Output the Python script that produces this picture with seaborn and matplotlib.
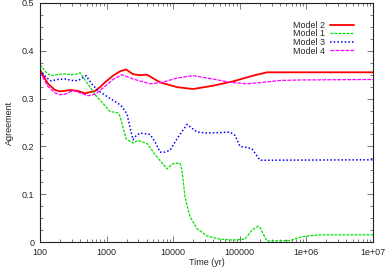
import numpy as np
import pandas as pd
import matplotlib
matplotlib.use("Agg")
import matplotlib.pyplot as plt
import matplotlib.ticker as mticker
import seaborn as sns

# ---- data ----
t_m2 = [100, 132, 168, 200, 292, 372, 474, 670, 796, 946, 1248, 1590, 1956, 2491, 3173,
        4043, 6335, 11400, 19830, 39590, 79060, 157800, 256100, 1e7]
v_m2 = [0.360, 0.331, 0.318, 0.315, 0.318, 0.316, 0.311, 0.316, 0.324, 0.334, 0.348, 0.357,
        0.361, 0.351, 0.349, 0.350, 0.334, 0.324, 0.320, 0.327, 0.336, 0.348, 0.355, 0.355]

t_m1 = [100, 123, 146, 180, 221, 292, 347, 399, 526, 693, 883, 1125, 1484, 1590, 1956, 2491,
        2961, 4043, 5712, 8070, 9931, 12650, 13560, 15040, 17880, 22780, 32170, 50440, 79060,
        119700, 152500, 187700, 201100, 256100, 567400, 801500, 1021000, 1600000, 1e7]
v_m1 = [0.371, 0.355, 0.348, 0.350, 0.352, 0.350, 0.351, 0.354, 0.330, 0.306, 0.290, 0.273,
        0.270, 0.263, 0.216, 0.207, 0.2125, 0.206, 0.178, 0.153, 0.164, 0.165, 0.150, 0.094,
        0.053, 0.028, 0.0125, 0.006, 0.004, 0.006, 0.025, 0.033, 0.030, 0.002, 0.003, 0.010,
        0.0125, 0.015, 0.015]

t_m3 = [100, 123, 146, 186, 237, 335, 399, 491, 604, 743, 1050, 1484, 1703, 2025, 2246, 2491,
        2763, 3173, 4485, 5331, 6335, 7530, 8954, 11810, 16120, 19160, 22780, 32170, 50440,
        71290, 84720, 100700, 123900, 152500, 201100, 1e7]
v_m3 = [0.360, 0.345, 0.337, 0.340, 0.341, 0.337, 0.340, 0.348, 0.330, 0.317, 0.303, 0.290,
        0.283, 0.268, 0.240, 0.214, 0.222, 0.228, 0.225, 0.210, 0.188, 0.188, 0.192, 0.219,
        0.246, 0.238, 0.230, 0.228, 0.229, 0.230, 0.223, 0.200, 0.198, 0.195, 0.171, 0.172]

t_m4 = [100, 132, 168, 200, 246, 313, 399, 526, 670, 914, 1248, 1703, 2491, 4485, 6788, 11400,
        19830, 39590, 71290, 128300, 223000, 401600, 801500, 1e7]
v_m4 = [0.355, 0.325, 0.312, 0.308, 0.310, 0.317, 0.312, 0.306, 0.309, 0.324, 0.340, 0.350,
        0.341, 0.331, 0.334, 0.343, 0.348, 0.341, 0.334, 0.331, 0.334, 0.338, 0.339, 0.340]

x_ticks = [100, 1000, 10000, 100000, 1e6, 1e7]
x_tick_labels = ["100", "1000", "10000", "100000", "1e+06", "1e+07"]
y_ticks = [0, 0.1, 0.2, 0.3, 0.4, 0.5]
y_tick_labels = ["0", "0.1", "0.2", "0.3", "0.4", "0.5"]

sns.set_style("ticks")
plt.rcParams["font.family"] = ["Liberation Sans", "DejaVu Sans"]

fig = plt.figure(figsize=(3.87, 2.69), dpi=100)
ax = fig.add_axes([40 / 387, 1 - 242 / 269, 333 / 387, 239 / 269])

series = [
    ("Model 2", t_m2, v_m2, "#ff0000", 1.3, None),
    ("Model 1", t_m1, v_m1, "#00e000", 0.9, (2.2, 1.0)),
    ("Model 3", t_m3, v_m3, "#0000ff", 1.1, (1.0, 1.4)),
    ("Model 4", t_m4, v_m4, "#ff00ff", 0.9, (3.0, 1.0)),
]
for name, t, v, c, lw, dash in series:
    df = pd.DataFrame({"t": t, "v": v})
    sns.lineplot(data=df, x="t", y="v", ax=ax, color=c, linewidth=lw, label=name,
                 estimator=None, sort=True)
    ln = ax.get_lines()[-1]
    if dash is not None:
        ln.set_dashes(dash)

ax.set_xscale("log")
ax.set_xlim(100, 1e7)
ax.set_ylim(0, 0.5)
ax.set_xticks(x_ticks)
ax.set_xticklabels(x_tick_labels)
ax.set_yticks(y_ticks)
ax.set_yticklabels(y_tick_labels)
ax.xaxis.set_minor_locator(mticker.LogLocator(base=10, subs=np.arange(2, 10)))
ax.xaxis.set_minor_formatter(mticker.NullFormatter())
ax.yaxis.set_minor_locator(mticker.MultipleLocator(0.025))

ax.tick_params(which="both", direction="in", top=True, right=True, labelsize=6.5,
               width=0.5, color="#444444", pad=4)
ax.tick_params(which="major", length=4)
ax.tick_params(which="minor", length=2)
for s in ax.spines.values():
    s.set_linewidth(0.8)
    s.set_color("#222222")

ax.set_xlabel("Time (yr)", fontsize=6.5, labelpad=1)
ax.set_ylabel("Agreement", fontsize=6.5, labelpad=6)

leg = ax.legend(loc="upper right", bbox_to_anchor=(0.955, 0.94), frameon=False, markerfirst=False,
                fontsize=6.4, handlelength=2.8, labelspacing=-0.05, handletextpad=0.5,
                borderaxespad=0)

fig.savefig("out.png", dpi=100)
